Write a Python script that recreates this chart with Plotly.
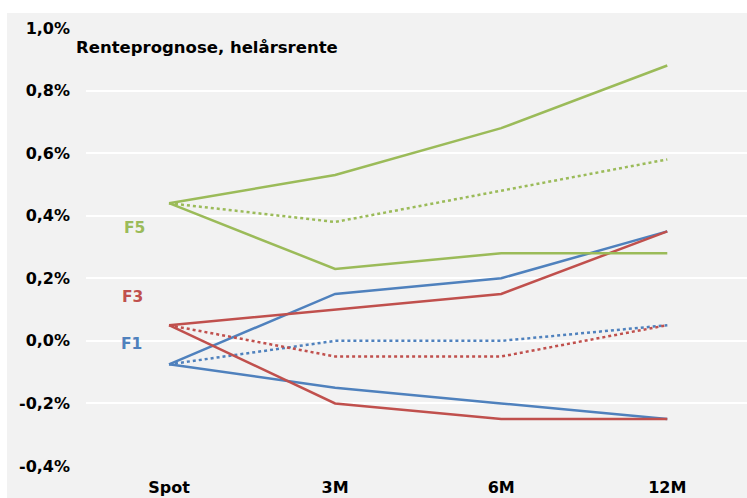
import plotly.graph_objects as go

categories = ["Spot", "3M", "6M", "12M"]

# F5 (green)
f5_high = [0.44, 0.53, 0.68, 0.88]
f5_mid = [0.44, 0.38, 0.48, 0.58]
f5_low = [0.44, 0.23, 0.28, 0.28]
# F3 (red)
f3_high = [0.05, 0.10, 0.15, 0.35]
f3_mid = [0.05, -0.05, -0.05, 0.05]
f3_low = [0.05, -0.20, -0.25, -0.25]
# F1 (blue)
f1_high = [-0.075, 0.15, 0.20, 0.35]
f1_mid = [-0.075, 0.0, 0.0, 0.05]
f1_low = [-0.075, -0.15, -0.20, -0.25]

y_tickvals = [-0.4, -0.2, 0.0, 0.2, 0.4, 0.6, 0.8, 1.0]
y_ticktext = ["-0,4%", "-0,2%", "0,0%", "0,2%", "0,4%", "0,6%", "0,8%", "1,0%"]

GREEN = "#9BBB59"
RED = "#C0504D"
BLUE = "#4F81BD"
FONT = "DejaVu Sans"

fig = go.Figure()
series = [
    (f1_high, BLUE, "solid"), (f1_low, BLUE, "solid"), (f1_mid, BLUE, "dot"),
    (f3_high, RED, "solid"), (f3_low, RED, "solid"), (f3_mid, RED, "dot"),
    (f5_high, GREEN, "solid"), (f5_low, GREEN, "solid"), (f5_mid, GREEN, "dot"),
]
for vals, col, dash in series:
    fig.add_trace(go.Scatter(x=categories, y=vals, mode="lines",
                             line=dict(color=col, width=2.5, dash=dash),
                             showlegend=False, hoverinfo="skip"))

L, T, B = 86, 28, 32
W, H = 747, 498
pw = W - L
ph = H - T - B

fig.update_layout(
    width=W, height=H,
    margin=dict(l=L, r=0, t=T, b=B, pad=0),
    paper_bgcolor="white",
    plot_bgcolor="#F2F2F2",
    showlegend=False,
    xaxis=dict(type="category", range=[-0.5, 3.48], showgrid=False, zeroline=False,
               showline=False, ticks="", ticklabelstandoff=10,
               tickfont=dict(family=FONT, size=16, color="black", weight="bold")),
    yaxis=dict(range=[-0.4, 1.0], tickvals=y_tickvals, ticktext=y_ticktext,
               showgrid=True, gridcolor="white", gridwidth=1.5, zeroline=False,
               showline=False, ticks="", ticklabelstandoff=15,
               tickfont=dict(family=FONT, size=16, color="black", weight="bold")),
)

# gray chart background extending beyond plot area
fig.add_shape(type="rect", xref="paper", yref="paper", layer="below",
              x0=(7 - L) / pw, x1=1.01, y0=-B / ph - 0.01, y1=(H - B - 13) / ph,
              fillcolor="#F2F2F2", line=dict(width=0))

def px_to_paper(x, y):
    return (x - L) / pw, (H - B - y) / ph

ax, ay = px_to_paper(74, 47)
fig.add_annotation(x=ax, y=ay, xref="paper", yref="paper", xanchor="left", yanchor="middle",
                   text="Renteprognose, helårsrente", showarrow=False,
                   font=dict(family=FONT, size=16.5, color="black", weight="bold"))
for lab, col, x, y in [("F5", GREEN, 134, 228), ("F3", RED, 132, 297), ("F1", BLUE, 131, 344)]:
    px, py = px_to_paper(x, y)
    fig.add_annotation(x=px, y=py, xref="paper", yref="paper", xanchor="center", yanchor="middle",
                       text=lab, showarrow=False,
                       font=dict(family=FONT, size=15.5, color=col, weight="bold"))

fig.write_html("out.html")
